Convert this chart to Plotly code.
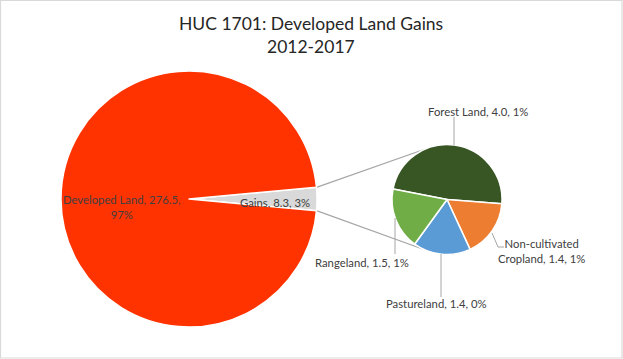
import math
import plotly.graph_objects as go

# ---------------- data ----------------
main_labels = ["Gains", "Developed Land"]
main_values = [8.3, 276.5]
main_pcts = ["3%", "97%"]

sub_labels = ["Forest Land", "Non-cultivated Cropland", "Pastureland", "Rangeland"]
sub_values = [4.0, 1.4, 1.4, 1.5]
sub_pcts = ["1%", "1%", "0%", "1%"]

title_lines = ["HUC 1701: Developed Land Gains", "2012-2017"]

# ---------------- style / geometry ----------------
W, H = 623, 359
FONT = "Lato"
TXT = "#404040"
LINE = "#A6A6A6"
main_colors = ["#D9D9D9", "#FF3300"]
sub_colors = ["#375623", "#ED7D31", "#5B9BD5", "#70AD47"]

MC = (189, 199)   # main pie centre (px)
MR = 128
SC = (447, 199.5)  # secondary pie centre (px)
SR = 55
SUB_ROT = -79
CONN_ANGLE = 114  # where connector lines meet the small pie (deg from east)


def px(x):
    return x / W


def py(y):
    return 1 - y / H


def dom(c, r):
    return dict(x=[px(c[0] - r), px(c[0] + r)], y=[py(c[1] + r), py(c[1] - r)])


total_main = sum(main_values)
gains_deg = 360 * main_values[0] / total_main
main_rot = 90 - gains_deg / 2

fig = go.Figure()
fig.add_trace(go.Pie(
    labels=main_labels, values=main_values, sort=False, direction="clockwise",
    rotation=main_rot, domain=dom(MC, MR), textinfo="none", hoverinfo="label+value",
    marker=dict(colors=main_colors, line=dict(color="white", width=1.5)),
    showlegend=False,
))
fig.add_trace(go.Pie(
    labels=sub_labels, values=sub_values, sort=False, direction="clockwise",
    rotation=SUB_ROT, domain=dom(SC, SR), textinfo="none", hoverinfo="label+value",
    marker=dict(colors=sub_colors, line=dict(color="white", width=1.5)),
    showlegend=False,
))

shapes = []
# connector lines from gains wedge to secondary pie
half = math.radians(gains_deg / 2)
ca = math.radians(CONN_ANGLE)
for s in (1, -1):
    x0 = MC[0] + MR * math.cos(half)
    y0 = MC[1] - s * MR * math.sin(half)
    x1 = SC[0] + SR * math.cos(ca)
    y1 = SC[1] - s * SR * math.sin(ca)
    shapes.append(dict(type="line", xref="paper", yref="paper",
                       x0=px(x0), y0=py(y0), x1=px(x1), y1=py(y1),
                       line=dict(color=LINE, width=1.3), layer="below"))

# leader lines for secondary labels (px paths)
leaders = [
    [(454, 117), (454, 145)],
    [(492, 233), (498, 247), (504, 247)],
    [(441, 254), (441, 297)],
    [(395, 218), (395, 254)],
]
for pts in leaders:
    for (a, b) in zip(pts[:-1], pts[1:]):
        shapes.append(dict(type="line", xref="paper", yref="paper",
                           x0=px(a[0]), y0=py(a[1]), x1=px(b[0]), y1=py(b[1]),
                           line=dict(color=LINE, width=1)))

# chart border
shapes.append(dict(type="rect", xref="paper", yref="paper",
                   x0=px(0.5), y0=py(358), x1=px(622), y1=py(0.5),
                   line=dict(color="#D9D9D9", width=1.2)))

annotations = []


def ann(text, x, y, size=11.3, color=TXT):
    annotations.append(dict(text=text, x=px(x), y=py(y), xref="paper", yref="paper",
                            showarrow=False, xanchor="center", yanchor="middle",
                            font=dict(family=FONT, size=size, color=color)))


ann(title_lines[0], 311, 23, size=17.5, color="#262626")
ann(title_lines[1], 311, 46, size=17.5, color="#262626")

ann(f"{main_labels[1]}, {main_values[1]:.1f},<br>{main_pcts[1]}", 122, 207)
ann(f"{main_labels[0]}, {main_values[0]:.1f}, {main_pcts[0]}", 275, 202)

ann(f"{sub_labels[0]}, {sub_values[0]:.1f}, {sub_pcts[0]}", 478, 111)
ann(f"Non-cultivated<br>Cropland, {sub_values[1]:.1f}, {sub_pcts[1]}", 541, 251)
ann(f"{sub_labels[2]}, {sub_values[2]:.1f}, {sub_pcts[2]}", 436, 303)
ann(f"{sub_labels[3]}, {sub_values[3]:.1f}, {sub_pcts[3]}", 362, 262)

fig.update_layout(
    width=W, height=H, margin=dict(l=0, r=0, t=0, b=0),
    paper_bgcolor="white", plot_bgcolor="white",
    shapes=shapes, annotations=annotations, showlegend=False,
)
fig.write_html(
    "out.html",
    config={"displayModeBar": False},
    post_script="document.body.style.margin='0';document.body.style.overflow='hidden';",
)
